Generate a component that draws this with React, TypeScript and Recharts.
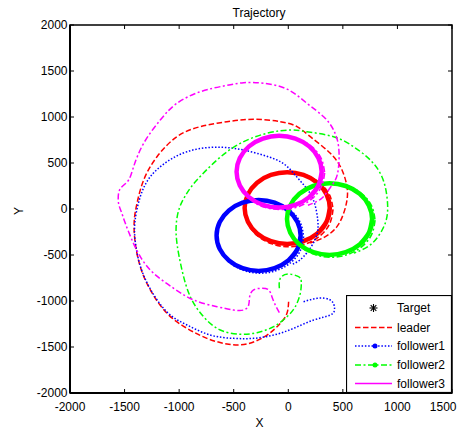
import React from 'react';
import { LineChart, Line, XAxis, YAxis, ReferenceArea, Legend } from 'recharts';

type Pt = [number, number];

const X_TICKS = [-2000, -1500, -1000, -500, 0, 500, 1000, 1500];
const Y_TICKS = [-2000, -1500, -1000, -500, 0, 500, 1000, 1500, 2000];
const TITLE = 'Trajectory';
const X_LABEL = 'X';
const Y_LABEL = 'Y';
const LEGEND_LABELS = ['Target', 'leader', 'follower1', 'follower2', 'follower3'];

// leader
const leaderApproach: Pt[] = [
  [3, -1008], [-12, -1134], [-73, -1243], [-195, -1370], [-378, -1467], [-562, -1467],
  [-745, -1406], [-928, -1297], [-1111, -1134], [-1264, -880], [-1356, -627], [-1402, -373],
  [-1412, -140], [-1386, 62], [-1325, 315], [-1203, 568], [-1020, 786], [-806, 895],
  [-562, 949], [-318, 975], [-73, 949], [80, 895], [202, 786], [385, 605], [492, 424],
  [538, 242], [538, 98], [507, -47], [446, -192], [340, -300], [200, -370],
];
const leaderLap: Pt[] = [
  [410, -5], [379, -160], [291, -291], [160, -379], [5, -410], [-150, -379], [-281, -291],
  [-369, -160], [-400, -5], [-369, 150], [-281, 281], [-150, 369], [5, 400], [160, 369],
  [291, 281], [379, 150], [410, -5],
];
const leaderLoop: Pt[] = [
  [380, 10], [350, -139], [266, -266], [139, -350], [-10, -380], [-159, -350], [-286, -266],
  [-370, -139], [-400, 10], [-370, 159], [-286, 286], [-159, 370], [-10, 400], [139, 370],
  [266, 286], [350, 159], [380, 10], [350, -139], [266, -266],
];

// follower1
const f1Approach: Pt[] = [
  [140, -1008], [263, -971], [385, -989], [424, -1080], [385, -1152], [232, -1207],
  [49, -1297], [-134, -1370], [-318, -1406], [-501, -1406], [-715, -1370], [-928, -1261],
  [-1111, -1120], [-1264, -870], [-1356, -620], [-1400, -373], [-1405, -140], [-1356, 134],
  [-1264, 351], [-1111, 514], [-928, 623], [-715, 670], [-501, 660], [-287, 605],
  [-73, 514], [49, 388], [150, 250], [230, 98], [270, -120], [250, -320], [140, -518], [40, -600],
];
const f1Lap: Pt[] = [
  [140, -300], [110, -452], [24, -581], [-105, -667], [-257, -697], [-409, -667], [-538, -581],
  [-624, -452], [-654, -300], [-624, -148], [-538, -19], [-409, 67], [-257, 97], [-105, 67],
  [24, -19], [110, -148], [140, -300],
];
const f1Loop: Pt[] = [
  [113, -288], [84, -435], [0, -560], [-125, -644], [-272, -673], [-419, -644], [-544, -560],
  [-628, -435], [-657, -288], [-628, -141], [-544, -16], [-419, 68], [-272, 97], [-125, 68],
  [0, -16], [84, -141], [113, -288], [84, -435], [0, -560],
];

// follower2
const f2Approach: Pt[] = [
  [-82, -862], [-73, -753], [3, -707], [94, -736], [119, -790], [110, -917], [64, -1062],
  [-12, -1171], [-134, -1279], [-287, -1344], [-440, -1362], [-623, -1315], [-776, -1171],
  [-898, -953], [-974, -663], [-1020, -373], [-1026, -160], [-995, 20], [-930, 170],
  [-837, 315], [-653, 533], [-440, 714], [-195, 823], [18, 859], [171, 840], [415, 786],
  [598, 677], [751, 533], [858, 351], [904, 134], [904, -84], [843, -264], [740, -400], [600, -480],
];
const f2Lap: Pt[] = [
  [795, -122], [764, -276], [677, -406], [547, -493], [393, -524], [239, -493], [109, -406],
  [22, -276], [-9, -122], [22, 32], [109, 162], [239, 250], [393, 280], [547, 250],
  [677, 162], [764, 32], [795, -122],
];
const f2Loop: Pt[] = [
  [768, -110], [738, -259], [654, -386], [527, -470], [378, -500], [229, -470], [102, -386],
  [18, -259], [-12, -110], [18, 39], [102, 166], [229, 250], [378, 280], [527, 250],
  [654, 166], [738, 39], [768, -110], [738, -259], [654, -386],
];

// follower3
const f3Approach: Pt[] = [
  [-82, -1127], [-119, -1044], [-150, -953], [-180, -880], [-241, -862], [-318, -880],
  [-354, -953], [-363, -1044], [-409, -1098], [-501, -1098], [-653, -1062], [-867, -989],
  [-1050, -862], [-1234, -699], [-1356, -518], [-1432, -337], [-1493, -156], [-1530, -30],
  [-1555, 62], [-1555, 170], [-1524, 242], [-1463, 315], [-1417, 460], [-1325, 714],
  [-1173, 967], [-1020, 1149], [-806, 1275], [-593, 1337], [-409, 1373], [-226, 1366],
  [-12, 1303], [171, 1149], [324, 1003], [415, 859], [461, 677], [461, 460], [431, 315],
  [369, 207], [300, 110], [180, 40],
];
const f3Lap: Pt[] = [
  [333, 393], [302, 239], [215, 109], [85, 22], [-69, -5], [-223, 22], [-353, 109],
  [-440, 239], [-471, 393], [-440, 547], [-353, 677], [-223, 764], [-69, 795], [85, 764],
  [215, 677], [302, 547], [333, 393],
];
const f3Loop: Pt[] = [
  [306, 405], [276, 256], [192, 129], [65, 45], [-84, 15], [-233, 45], [-360, 129],
  [-444, 256], [-474, 405], [-444, 554], [-360, 681], [-233, 765], [-84, 795], [65, 765],
  [192, 681], [276, 554], [306, 405], [276, 256], [192, 129],
];

const toRows = (pts: Pt[]) => pts.map(([x, y]) => ({ x, y }));

const FONT = '"Liberation Sans", Arial, Helvetica, sans-serif';
// chart-local coordinates (chart sits at page offset 8,8)
const PLOT = { left: 62, top: 17, right: 444, bottom: 385 };

const agents = [
  { key: 'leader', color: '#ff0000', dash: '5.5 2.5', approach: leaderApproach, lap: leaderLap, loop: leaderLoop, marker: false },
  { key: 'follower1', color: '#0000ff', dash: '1.5 1.8', approach: f1Approach, lap: f1Lap, loop: f1Loop, marker: true },
  { key: 'follower2', color: '#00ff00', dash: '6 2.5 2 2.5', approach: f2Approach, lap: f2Lap, loop: f2Loop, marker: true },
  { key: 'follower3', color: '#ff00ff', dash: '6 2.5 2 2.5', approach: f3Approach, lap: f3Lap, loop: f3Loop, marker: false },
];

const XTick = (props: any) => {
  const { x, payload } = props;
  const isLast = payload.value === X_TICKS[X_TICKS.length - 1];
  return (
    <g>
      <line x1={x} x2={x} y1={PLOT.bottom} y2={PLOT.bottom - 4} stroke="#000" />
      <line x1={x} x2={x} y1={PLOT.top} y2={PLOT.top + 4} stroke="#000" />
      <text
        x={isLast ? x + 4.5 : x}
        y={398.5}
        textAnchor={isLast ? 'end' : 'middle'}
        dominantBaseline="central"
        fontSize={12}
        fontFamily={FONT}
        fill="#000"
      >
        {payload.value}
      </text>
    </g>
  );
};

const YTick = (props: any) => {
  const { y, payload } = props;
  return (
    <g>
      <line x1={PLOT.left} x2={PLOT.left + 4} y1={y} y2={y} stroke="#000" />
      <line x1={PLOT.right} x2={PLOT.right - 4} y1={y} y2={y} stroke="#000" />
      <text x={59.5} y={y} textAnchor="end" dominantBaseline="central" fontSize={12} fontFamily={FONT} fill="#000">
        {payload.value}
      </text>
    </g>
  );
};

const ROW_Y = [13, 32.5, 51, 70, 88.5];

const LegendBox = () => (
  <svg width={106} height={98} style={{ display: 'block' }}>
    <rect x={0.5} y={0.5} width={105} height={97} fill="#fff" stroke="#000" strokeWidth={1.2} />
    <g stroke="#000" strokeWidth={1.1}>
      <line x1={23.5} x2={31.5} y1={ROW_Y[0]} y2={ROW_Y[0]} />
      <line x1={27.5} x2={27.5} y1={ROW_Y[0] - 4} y2={ROW_Y[0] + 4} />
      <line x1={24.7} x2={30.3} y1={ROW_Y[0] - 2.8} y2={ROW_Y[0] + 2.8} />
      <line x1={24.7} x2={30.3} y1={ROW_Y[0] + 2.8} y2={ROW_Y[0] - 2.8} />
    </g>
    {LEGEND_LABELS.map((label, i) => (
      <text key={label} x={51} y={ROW_Y[i]} dominantBaseline="central" fontSize={12} fontFamily={FONT} fill="#000">
        {label}
      </text>
    ))}
    {agents.map((a, i) => (
      <g key={a.key}>
        <line
          x1={9}
          x2={46}
          y1={ROW_Y[i + 1]}
          y2={ROW_Y[i + 1]}
          stroke={a.color}
          strokeWidth={1.5}
          strokeDasharray={a.key === 'follower3' ? undefined : a.dash}
        />
        {a.marker && <circle cx={29} cy={ROW_Y[i + 1]} r={2.5} fill={a.color} />}
      </g>
    ))}
  </svg>
);

export default function App() {
  return (
    <div style={{ position: 'relative', width: 449, height: 424, background: '#fff' }}>
      <LineChart
        width={449}
        height={424}
        margin={{ top: 17, right: 5, left: 2, bottom: 9 }}
        style={{ overflow: 'visible' }}
      >
        <XAxis
          type="number"
          dataKey="x"
          domain={[-2000, 1500]}
          ticks={X_TICKS}
          interval={0}
          allowDataOverflow
          height={30}
          tickLine={false}
          axisLine={{ stroke: '#000', strokeWidth: 2 }}
          tick={<XTick />}
        />
        <YAxis
          type="number"
          dataKey="y"
          domain={[-2000, 2000]}
          ticks={Y_TICKS}
          interval={0}
          allowDataOverflow
          width={60}
          tickLine={false}
          axisLine={{ stroke: '#000', strokeWidth: 2 }}
          tick={<YTick />}
        />
        {agents.map((a) => [
          <Line
            key={a.key + '-approach'}
            data={toRows(a.approach)}
            dataKey="y"
            type="natural"
            stroke={a.color}
            strokeWidth={1.5}
            strokeDasharray={a.dash}
            dot={false}
            activeDot={false}
            legendType="none"
            isAnimationActive={false}
          />,
          <Line
            key={a.key + '-lap'}
            data={toRows(a.lap)}
            dataKey="y"
            type="natural"
            stroke={a.color}
            strokeWidth={1.6}
            strokeDasharray={a.dash}
            dot={false}
            activeDot={false}
            legendType="none"
            isAnimationActive={false}
          />,
          <Line
            key={a.key + '-loop'}
            data={toRows(a.loop)}
            dataKey="y"
            type="natural"
            stroke={a.color}
            strokeWidth={4.5}
            dot={false}
            activeDot={false}
            legendType="none"
            isAnimationActive={false}
          />,
        ])}
        <ReferenceArea x1={-2000} x2={1500} y1={-2000} y2={2000} fill="none" stroke="#000" strokeWidth={1.5} />
        <Legend
          layout="vertical"
          align="center"
          verticalAlign="middle"
          content={<LegendBox />}
          wrapperStyle={{ left: 338, top: 287, width: 106, height: 98 }}
        />
        <text x={251.5} y={414.5} textAnchor="middle" dominantBaseline="central" fontSize={12} fontFamily={FONT} fill="#000">
          {X_LABEL}
        </text>
        <text
          x={11}
          y={203}
          transform="rotate(-90 11 203)"
          textAnchor="middle"
          dominantBaseline="central"
          fontSize={12}
          fontFamily={FONT}
          fill="#000"
        >
          {Y_LABEL}
        </text>
      </LineChart>
      <div
        style={{
          position: 'absolute',
          left: 0,
          width: 502,
          top: -2.5,
          height: 14,
          lineHeight: '14px',
          textAlign: 'center',
          fontSize: 12,
          fontFamily: FONT,
          color: '#000',
          pointerEvents: 'none',
        }}
      >
        {TITLE}
      </div>
    </div>
  );
}
